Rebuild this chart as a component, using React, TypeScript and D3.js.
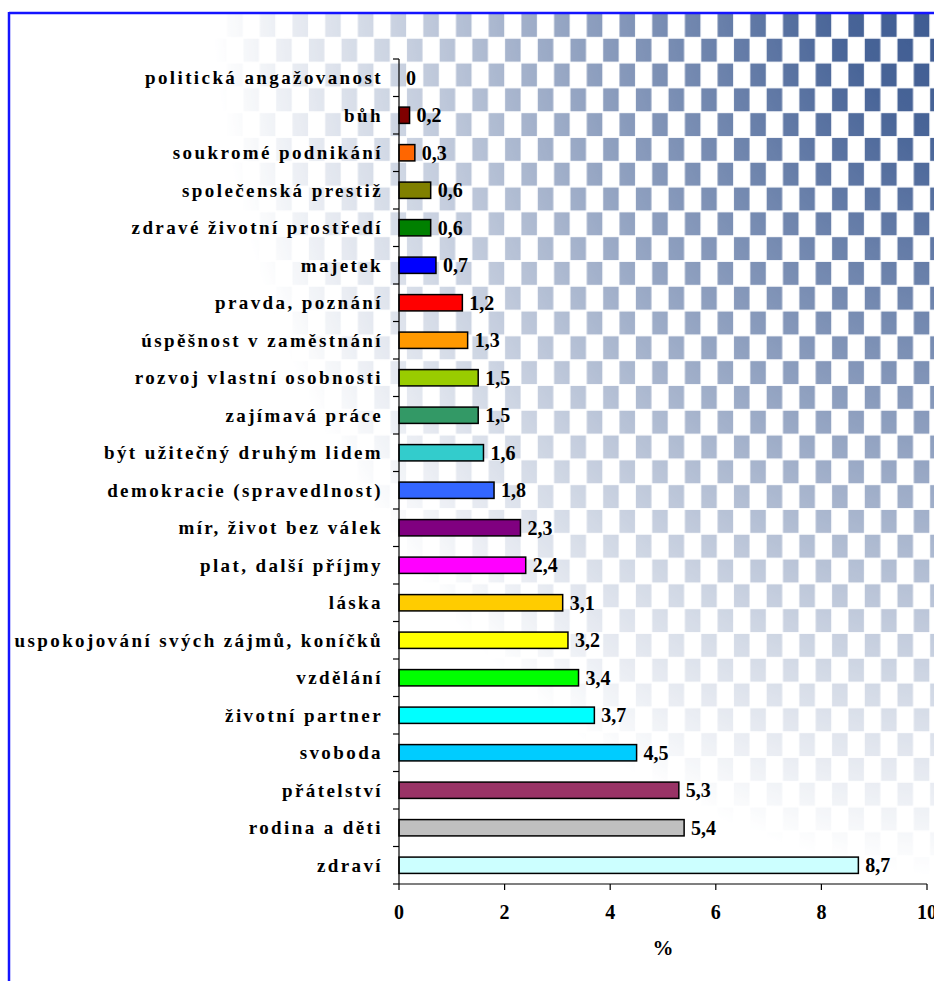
import React from "react";
import * as d3 from "d3";

const categories = [
  "politická angažovanost",
  "bůh",
  "soukromé podnikání",
  "společenská prestiž",
  "zdravé životní prostředí",
  "majetek",
  "pravda, poznání",
  "úspěšnost v zaměstnání",
  "rozvoj vlastní osobnosti",
  "zajímavá práce",
  "být užitečný druhým lidem",
  "demokracie (spravedlnost)",
  "mír, život bez válek",
  "plat, další příjmy",
  "láska",
  "uspokojování svých zájmů, koníčků",
  "vzdělání",
  "životní partner",
  "svoboda",
  "přátelství",
  "rodina a děti",
  "zdraví",
];

const values = [0, 0.2, 0.3, 0.6, 0.6, 0.7, 1.2, 1.3, 1.5, 1.5, 1.6, 1.8, 2.3, 2.4, 3.1, 3.2, 3.4, 3.7, 4.5, 5.3, 5.4, 8.7];

const barColors = [
  "#808080", "#800000", "#FF6600", "#808000", "#008000", "#0000FF", "#FF0000", "#FF9900",
  "#99CC00", "#339966", "#33CCCC", "#3366FF", "#800080", "#FF00FF", "#FFCC00", "#FFFF00",
  "#00FF00", "#00FFFF", "#00CCFF", "#993366", "#C0C0C0", "#CCFFFF",
];

const xTickValues = [0, 2, 4, 6, 8, 10];
const xAxisTitle = "%";

const W = 934;
const H = 981;
const FONT = "'Liberation Serif', 'Times New Roman', serif";

export default function App() {
  const x = d3.scaleLinear().domain([0, 10]).range([399, 927]);
  const y = d3.scaleBand<string>().domain(categories).range([59, 884]).paddingInner(0.565).paddingOuter(0.2825);
  const step = y.step();
  const [y0, y1] = y.range();
  const boundaries = d3.range(categories.length + 1).map((i) => y0 + i * step);
  const fmt = (v: number) => (v === 0 ? "0" : d3.format(".1f")(v).replace(".", ","));

  const cellW = 32.7 / 2;
  const cellH = 24.8;

  return (
    <svg width={W} height={H} style={{ position: "absolute", left: 0, top: 0, display: "block" }} fontFamily={FONT}>
      <defs>
        <pattern id="chk" patternUnits="userSpaceOnUse" width={cellW * 2} height={cellH * 2} x={-2.2} y={13}>
          <rect x={0.4} y={0.9} width={cellW - 0.8} height={cellH - 1.8} fill="#34538c" />
          <rect x={cellW + 0.4} y={cellH + 0.9} width={cellW - 0.8} height={cellH - 1.8} fill="#34538c" />
        </pattern>
        <radialGradient
          id="fade"
          gradientUnits="userSpaceOnUse"
          cx={1000}
          cy={-50}
          r={1000}
          gradientTransform="translate(1000,-50) scale(0.85,1) translate(-1000,50)"
        >
          <stop offset="0" stopColor="#fff" stopOpacity={1} />
          <stop offset="0.2" stopColor="#fff" stopOpacity={0.9} />
          <stop offset="0.5" stopColor="#fff" stopOpacity={0.55} />
          <stop offset="0.75" stopColor="#fff" stopOpacity={0.22} />
          <stop offset="0.93" stopColor="#fff" stopOpacity={0} />
        </radialGradient>
        <mask id="m" maskUnits="userSpaceOnUse" x={0} y={0} width={W} height={H}>
          <rect x={0} y={0} width={W} height={H} fill="url(#fade)" />
        </mask>
      </defs>
      <rect x={0} y={0} width={W} height={H} fill="#fff" />
      <rect x={10} y={14} width={W - 10} height={H - 14} fill="url(#chk)" mask="url(#m)" />
      {/* border */}
      <line x1={9} y1={13} x2={W} y2={13} stroke="#1414ff" strokeWidth={2.5} />
      <line x1={9} y1={12} x2={9} y2={H} stroke="#1414ff" strokeWidth={2.5} />

      {/* bars */}
      {categories.map((c, i) =>
        values[i] > 0 ? (
          <rect
            key={c}
            x={x(0)}
            y={y(c)!}
            width={x(values[i]) - x(0)}
            height={y.bandwidth()}
            fill={barColors[i]}
            stroke="#000"
            strokeWidth={1.5}
          />
        ) : null
      )}

      {/* y axis */}
      <line x1={x(0)} y1={y0} x2={x(0)} y2={y1} stroke="#000" strokeWidth={1.2} />
      {boundaries.map((b, i) => (
        <line key={i} x1={x(0) - 6} y1={b} x2={x(0)} y2={b} stroke="#000" strokeWidth={1.2} />
      ))}
      {categories.map((c) => (
        <text
          key={c}
          x={383}
          y={y(c)! + y.bandwidth() / 2}
          dy="0.35em"
          textAnchor="end"
          fontSize={19}
          fontWeight="bold"
          letterSpacing={2.4}
          fill="#000"
        >
          {c}
        </text>
      ))}

      {/* x axis */}
      <line x1={x(0)} y1={y1} x2={x(10)} y2={y1} stroke="#000" strokeWidth={1.2} />
      {xTickValues.map((t) => (
        <g key={t}>
          <line x1={x(t)} y1={y1} x2={x(t)} y2={y1 + 6} stroke="#000" strokeWidth={1.2} />
          <text x={x(t)} y={912} dy="0.35em" textAnchor="middle" fontSize={20} fontWeight="bold" fill="#000">
            {t}
          </text>
        </g>
      ))}
      <text x={663} y={948} dy="0.35em" textAnchor="middle" fontSize={21} fontWeight="bold" fill="#000">
        {xAxisTitle}
      </text>

      {/* value labels */}
      {categories.map((c, i) => (
        <text
          key={"v" + c}
          x={x(values[i]) + 7}
          y={y(c)! + y.bandwidth() / 2}
          dy="0.35em"
          fontSize={20}
          fontWeight="bold"
          fill="#000"
        >
          {fmt(values[i])}
        </text>
      ))}
    </svg>
  );
}
